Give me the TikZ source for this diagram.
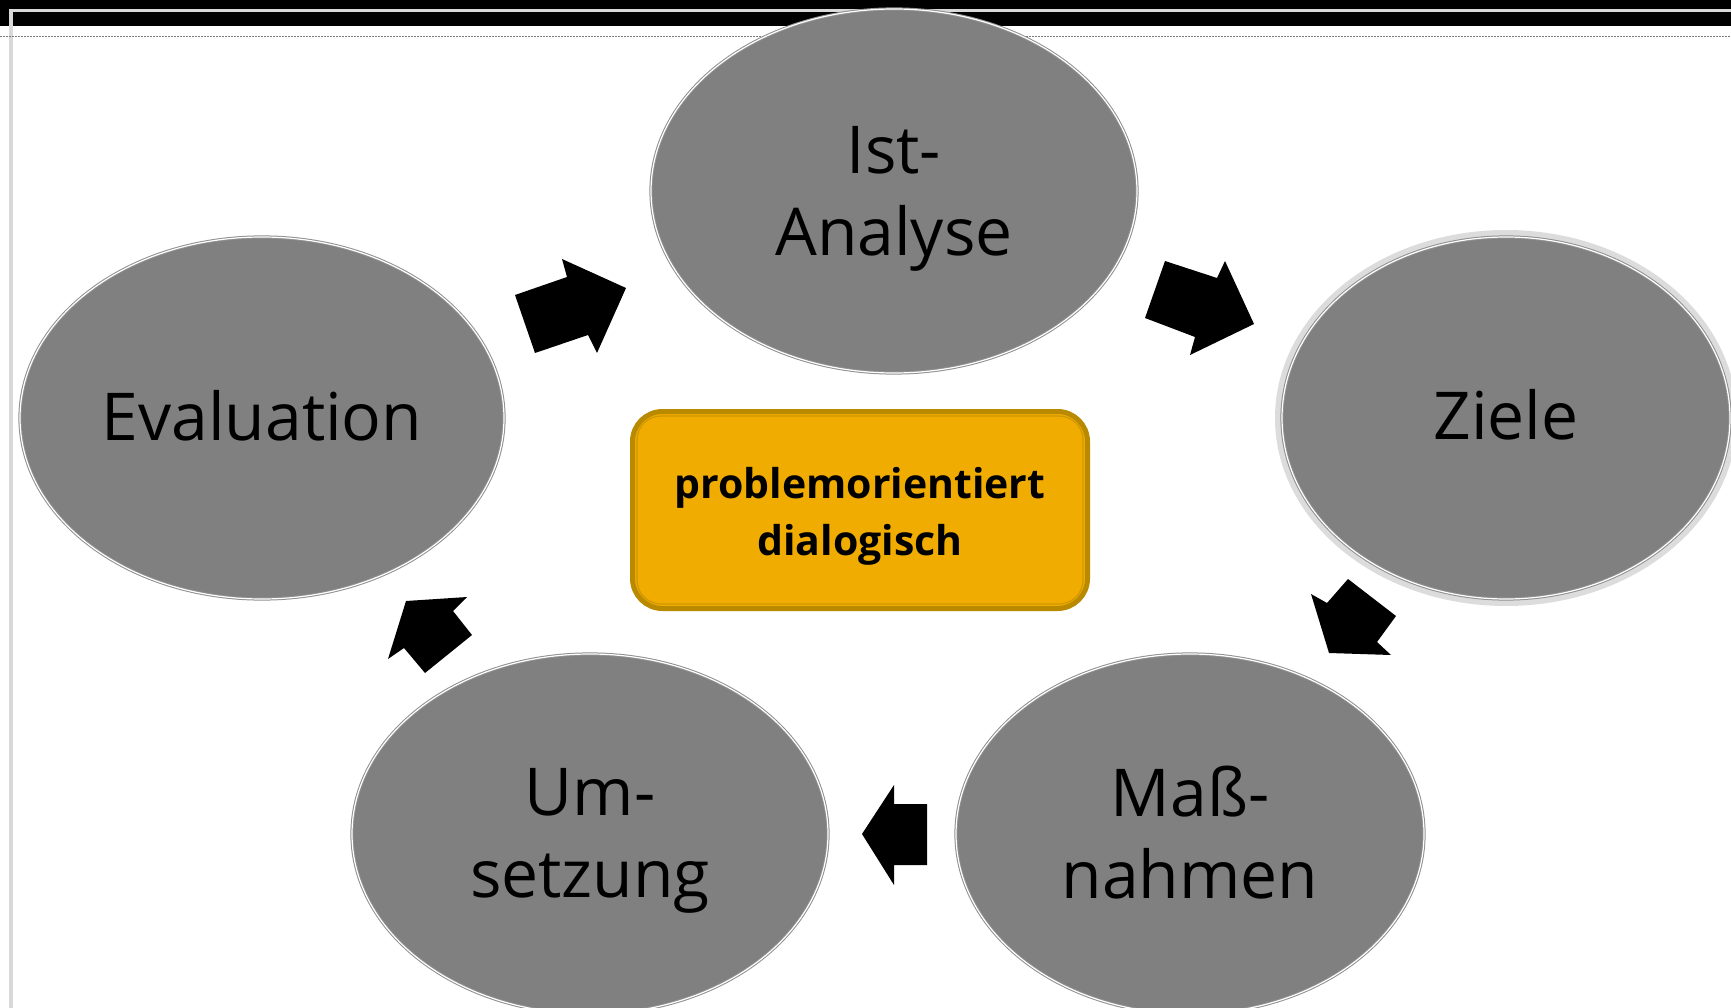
\documentclass[tikz,border=0pt]{standalone}
\usepackage{fontspec}
\setmainfont{Open Sans}
\usetikzlibrary{shapes.geometric}
\definecolor{ellfill}{HTML}{808080}
\definecolor{ellline}{HTML}{8F8F8F}
\definecolor{boxfill}{HTML}{F0AC00}
\definecolor{boxline}{HTML}{B98A00}
\definecolor{boxinner}{HTML}{D09800}
\definecolor{framegray}{HTML}{D9D9D9}
\definecolor{dotgray}{HTML}{7A7A7A}
\definecolor{halogray}{HTML}{DCDCDC}
\begin{document}
\begin{tikzpicture}[x=1pt,y=-1pt,
  ell/.style={ellipse, fill=ellfill, draw=ellline, line width=1pt, double=white, double distance=1.2pt, inner sep=0pt},
  elltext/.style={align=center, inner sep=0pt, font=\fontsize{66}{82}\selectfont, text=black},
  blockarrow/.style={fill=black},
  centerbox/.style={rounded corners=30pt, fill=boxfill, draw=boxline, line width=5pt, minimum width=455pt, minimum height=197pt, inner sep=0pt},
  boxtext/.style={align=center, inner sep=0pt, font=\bfseries\fontsize{41}{57}\selectfont, text=black}]
\useasboundingbox (0,0) rectangle (1731,1008);
\fill[white] (0,0) rectangle (1731,1008);
% frame
\fill[black] (0,0) rectangle (1731,26);
\draw[framegray, line width=3.5pt] (11,1008) -- (11,10.5) -- (1731,10.5);
\draw[dotgray, line width=1.5pt, dash pattern=on 2pt off 1pt] (0,36.5) -- (1731,36.5);
% ellipses
\node[ell, minimum width=486pt, minimum height=364pt] (ist) at (894,191) {};
\node[elltext] (istt) at ([yshift=-8pt]ist.center) {Ist-\\Analyse};
\draw[halogray, line width=6pt] (1506,418) ellipse [x radius=228, y radius=185];
\node[ell, minimum width=448pt, minimum height=362pt] (ziele) at (1506,418) {};
\node[elltext] (zielet) at ([yshift=3pt]ziele.center) {Ziele};
\node[ell, minimum width=468pt, minimum height=360pt] (mass) at (1190,834) {};
\node[elltext] (masst) at ([yshift=1pt]mass.center) {Maß-\\nahmen};
\node[ell, minimum width=476pt, minimum height=360pt] (um) at (590,834) {};
\node[elltext] (umt) at ([yshift=-7pt]um.center) {Um-\\setzung};
\node[ell, minimum width=484pt, minimum height=362pt] (eval) at (262,418) {};
\node[elltext] (evalt) at ([yshift=2pt]eval.center) {Evaluation};
% center box
\node[centerbox] (box) at (860,510) {};
\draw[boxinner, line width=1.2pt, rounded corners=24pt] ([shift={(7,7)}]box.north west) rectangle ([shift={(-7,-7)}]box.south east);
\node[boxtext] (boxt) at ([yshift=-6pt]box.center) {problemorientiert\\dialogisch};
% block arrows
\fill[blockarrow] (515,295) -- (535,353) -- (588,335) -- (597,353) -- (626,288) -- (562,259) -- (567,277) -- cycle;
\fill[blockarrow] (1165,261) -- (1145,318) -- (1195,337) -- (1190,355) -- (1254,324) -- (1225,261) -- (1217,278) -- cycle;
\fill[blockarrow] (1348,579) -- (1396,616) -- (1377,642) -- (1391,655) -- (1329,653) -- (1311,594) -- (1327,603) -- cycle;
\fill[blockarrow] (927,804) -- (927,865) -- (894,865) -- (894,885) -- (862,834) -- (894,785) -- (894,804) -- cycle;
\fill[blockarrow] (472,635) -- (425,673) -- (404,648) -- (388,659) -- (406,601) -- (467,597) -- (453,611) -- cycle;
\end{tikzpicture}
\end{document}
